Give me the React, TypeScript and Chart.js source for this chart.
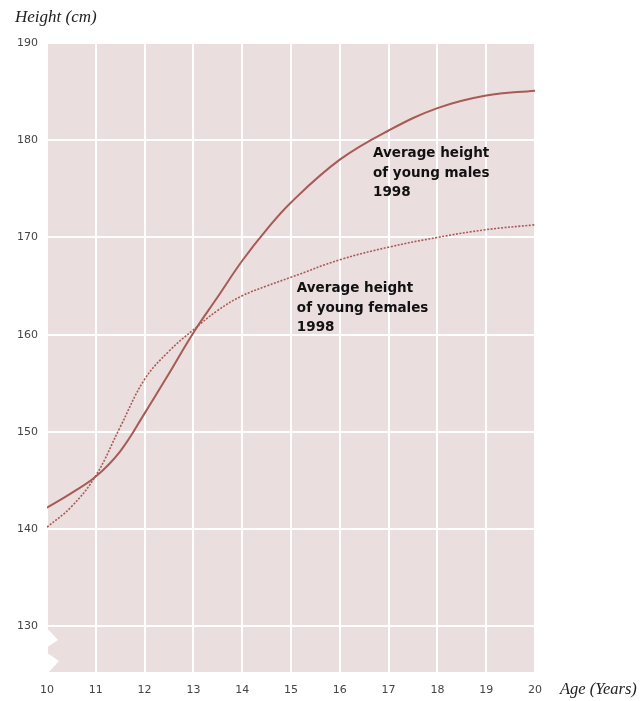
import { useEffect, useRef } from 'react'
import { Chart, registerables } from 'chart.js'

Chart.register(...registerables)

// ages en annees
const ages = [10, 10.5, 11, 11.5, 12, 12.5, 13, 13.5, 14, 14.5, 15, 16, 17, 18, 19, 20]
// taille moyenne garcons 1998 (cm)
const males = [142.2, 143.7, 145.4, 148.0, 151.9, 156.0, 160.2, 163.9, 167.6, 170.8, 173.6, 178.0, 181.0, 183.3, 184.6, 185.1]
// taille moyenne filles 1998 (cm)
const females = [140.2, 142.3, 145.5, 150.5, 155.4, 158.3, 160.5, 162.5, 164.0, 165.0, 165.9, 167.7, 169.0, 170.0, 170.8, 171.3]

const yTicks = [130, 140, 150, 160, 170, 180, 190]
const xTicks = [10, 11, 12, 13, 14, 15, 16, 17, 18, 19, 20]

const maleLabel = ['Average height', 'of young males', '1998']
const femaleLabel = ['Average height', 'of young females', '1998']

const FILL = '#eadede'
const LINE = '#a85a55'

// fond rose + encoches en zigzag + textes
const decorPlugin = {
    id: 'decor',
    beforeDraw(chart: any) {
        const { ctx, chartArea: a } = chart
        ctx.save()
        ctx.fillStyle = FILL
        ctx.fillRect(a.left, a.top, a.right - a.left, a.bottom - a.top)
        ctx.restore()
    },
    beforeDatasetsDraw(chart: any) {
        const { ctx, chartArea: a } = chart
        // zigzag blanc en bas a gauche
        ctx.save()
        ctx.fillStyle = '#ffffff'
        ctx.beginPath()
        ctx.moveTo(a.left - 1, a.bottom - 45)
        ctx.lineTo(a.left + 11, a.bottom - 32)
        ctx.lineTo(a.left - 4, a.bottom - 22)
        ctx.lineTo(a.left + 12, a.bottom - 11)
        ctx.lineTo(a.left + 1, a.bottom + 1)
        ctx.lineTo(a.left - 10, a.bottom + 1)
        ctx.lineTo(a.left - 10, a.bottom - 45)
        ctx.closePath()
        ctx.fill()
        ctx.restore()
    },
    afterDraw(chart: any) {
        const { ctx, scales } = chart
        const x = scales.x
        const y = scales.y
        ctx.save()
        ctx.fillStyle = '#111'
        ctx.font = 'bold 13.5px "DejaVu Sans"'
        ctx.textBaseline = 'alphabetic'
        maleLabel.forEach((t, i) => ctx.fillText(t, x.getPixelForValue(16.68), y.getPixelForValue(178.27) + i * 19.5))
        femaleLabel.forEach((t, i) => ctx.fillText(t, x.getPixelForValue(15.12), y.getPixelForValue(164.38) + i * 19.5))

        // titres des axes en italique serif
        ctx.fillStyle = '#222'
        ctx.textBaseline = 'middle'
        ctx.font = 'italic 17px "Liberation Serif"'
        ctx.fillText('Height (cm)', 15, 18)
        ctx.font = 'italic 16.5px "Liberation Serif"'
        ctx.fillText('Age (Years)', 560, 690)
        ctx.restore()
    },
}

function App() {
    const chartRef = useRef<HTMLCanvasElement>(null)
    const chartInstance = useRef<Chart | null>(null)

    useEffect(() => {
        if (!chartRef.current) return
        if (chartInstance.current) chartInstance.current.destroy()

        chartInstance.current = new Chart(chartRef.current, {
            type: 'line',
            data: {
                datasets: [
                    {
                        label: 'Males',
                        data: ages.map((a, i) => ({ x: a, y: males[i] })),
                        borderColor: LINE,
                        borderWidth: 2,
                        pointRadius: 0,
                        tension: 0.4,
                    },
                    {
                        label: 'Females',
                        data: ages.map((a, i) => ({ x: a, y: females[i] })),
                        borderColor: LINE,
                        borderWidth: 1.6,
                        borderDash: [2, 1.5],
                        pointRadius: 0,
                        tension: 0.4,
                    },
                ],
            },
            options: {
                animation: false,
                responsive: true,
                maintainAspectRatio: false,
                layout: { padding: { left: 0, top: 43, right: 105, bottom: 0 } },
                plugins: {
                    legend: { display: false },
                    tooltip: { enabled: false },
                },
                scales: {
                    x: {
                        type: 'linear',
                        min: 10,
                        max: 20,
                        afterBuildTicks: (s: any) => { s.ticks = xTicks.map(v => ({ value: v })) },
                        afterFit: (s: any) => { s.height = 29 },
                        grid: { color: '#ffffff', lineWidth: 2, drawTicks: false },
                        border: { display: false },
                        ticks: {
                            color: '#444',
                            font: { family: 'DejaVu Sans', size: 11 },
                            padding: 12,
                            maxRotation: 0,
                        },
                    },
                    y: {
                        type: 'linear',
                        min: 125.3,
                        max: 190,
                        afterBuildTicks: (s: any) => { s.ticks = yTicks.map(v => ({ value: v })) },
                        afterFit: (s: any) => { s.width = 47 },
                        grid: { color: '#ffffff', lineWidth: 2, drawTicks: false },
                        border: { display: false },
                        ticks: {
                            color: '#444',
                            font: { family: 'DejaVu Sans', size: 11 },
                            padding: 9,
                        },
                    },
                },
            },
            plugins: [decorPlugin],
        })

        return () => {
            if (chartInstance.current) {
                chartInstance.current.destroy()
                chartInstance.current = null
            }
        }
    }, [])

    return (
        <div style={{ position: 'absolute', left: 0, top: 0, width: 640, height: 701, background: '#fff' }}>
            <canvas ref={chartRef}></canvas>
        </div>
    )
}

export default App
